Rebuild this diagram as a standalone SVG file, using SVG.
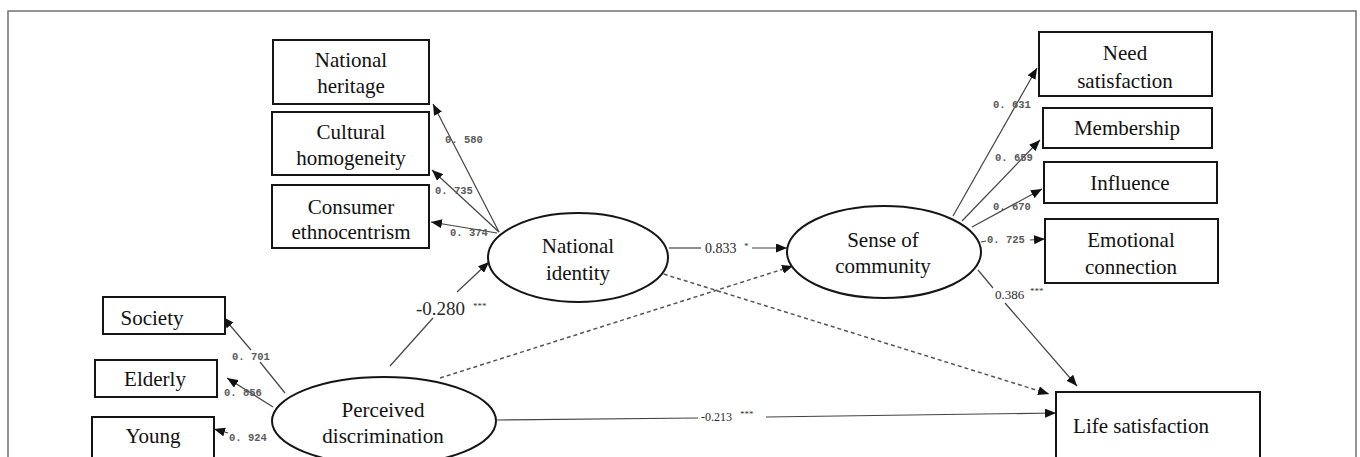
<svg xmlns="http://www.w3.org/2000/svg" width="1360" height="457" viewBox="0 0 1360 457">
<style>
.box{fill:#fff;stroke:#151515;stroke-width:2}
.ell{fill:#fff;stroke:#151515;stroke-width:2}
.lbl{font-family:"Liberation Serif","Times New Roman",serif;font-size:21px;fill:#111;text-anchor:middle}
.ln{fill:none;stroke:#444;stroke-width:1.2}
.dash{fill:none;stroke:#555;stroke-width:1.5;stroke-dasharray:4 3}
.co{font-family:"Liberation Mono","Courier New",monospace;font-size:10.5px;font-weight:bold;fill:#5a5a5a}
.cs{font-family:"Liberation Serif","Times New Roman",serif;fill:#2a2a2a}
.st{font-family:"Liberation Serif","Times New Roman",serif;fill:#333;font-size:9px}
</style>
<defs>
<marker id="ah" markerUnits="userSpaceOnUse" markerWidth="11" markerHeight="9" refX="11" refY="4.5" orient="auto">
<path d="M0,0 L11,4.5 L0,9 z" fill="#111"/>
</marker>
</defs>
<rect x="0" y="0" width="1360" height="457" fill="#fff"/>
<rect x="8" y="11" width="1348" height="460" fill="none" stroke="#707070" stroke-width="1.5"/>

<g id="connectors">
<path class="ln" d="M499,232 L433,104" marker-end="url(#ah)"/>
<path class="ln" d="M499,232 L432,170" marker-end="url(#ah)"/>
<path class="ln" d="M497,233 L431,222" marker-end="url(#ah)"/>
<path class="ln" d="M390,366 L433,318"/>
<path class="ln" d="M457,292 L489,262" marker-end="url(#ah)"/>
<path class="ln" d="M669,248 L701,248"/>
<path class="ln" d="M752,248 L787,248" marker-end="url(#ah)"/>
<path class="dash" d="M657,272 L1049,394" marker-end="url(#ah)"/>
<path class="dash" d="M440,378 L793,266" marker-end="url(#ah)"/>
<path class="ln" d="M978,270 L993,288"/>
<path class="ln" d="M1005,303 L1077,386" marker-end="url(#ah)"/>
<path class="ln" d="M497,420 L698,418"/>
<path class="ln" d="M766,417 L1056,413" marker-end="url(#ah)"/>
<path class="ln" d="M953,216 L1037,68" marker-end="url(#ah)"/>
<path class="ln" d="M962,221 L1040,140" marker-end="url(#ah)"/>
<path class="ln" d="M972,227 L1042,189" marker-end="url(#ah)"/>
<path class="ln" d="M981,242 L986,241"/>
<path class="ln" d="M1030,240 L1045,239" marker-end="url(#ah)"/>
<path class="ln" d="M285,393 L260,362"/>
<path class="ln" d="M251,350 L223,317" marker-end="url(#ah)"/>
<path class="ln" d="M273,407 L227,378" marker-end="url(#ah)"/>
<path class="ln" d="M228,433 L214,429" marker-end="url(#ah)"/>

<text class="co" x="445" y="143">0. 580</text>
<text class="co" x="435" y="194">0. 735</text>
<text class="co" x="450" y="236">0. 374</text>
<text class="co" x="993" y="108">0. 631</text>
<text class="co" x="995" y="161">0. 659</text>
<text class="co" x="993" y="210">0. 670</text>
<text class="co" x="987" y="243">0. 725</text>
<text class="co" x="232" y="360">0. 701</text>
<text class="co" x="224" y="396">0. 856</text>
<text class="co" x="229" y="441">0. 924</text>

<text class="cs" x="416" y="315" font-size="19">-0.280</text>
<text class="st" x="473" y="309">***</text>
<text class="cs" x="705" y="253" font-size="14">0.833</text>
<text class="st" x="744" y="249">*</text>
<text class="cs" x="995" y="299" font-size="13">0.386</text>
<text class="st" x="1030" y="294">***</text>
<text class="cs" x="701" y="421" font-size="12">-0.213</text>
<text class="st" x="740" y="417">***</text>
</g>

<g id="national-heritage"><rect class="box" x="273" y="40" width="156" height="64"/><text class="lbl" x="351" y="67">National</text><text class="lbl" x="351" y="93">heritage</text></g>
<g id="cultural-homogeneity"><rect class="box" x="272" y="112" width="157" height="63"/><text class="lbl" x="351" y="139">Cultural</text><text class="lbl" x="351" y="165">homogeneity</text></g>
<g id="consumer-ethnocentrism"><rect class="box" x="272" y="185" width="157" height="63"/><text class="lbl" x="351" y="214">Consumer</text><text class="lbl" x="351" y="239">ethnocentrism</text></g>

<g id="national-identity"><ellipse class="ell" cx="578" cy="257.5" rx="90" ry="44.5"/><text class="lbl" x="578" y="253">National</text><text class="lbl" x="578" y="280">identity</text></g>
<g id="sense-of-community"><ellipse class="ell" cx="884" cy="252" rx="97" ry="46"/><text class="lbl" x="883" y="247">Sense of</text><text class="lbl" x="883" y="273">community</text></g>

<g id="need-satisfaction"><rect class="box" x="1039" y="32" width="173" height="64"/><text class="lbl" x="1125" y="60">Need</text><text class="lbl" x="1125" y="88">satisfaction</text></g>
<g id="membership"><rect class="box" x="1043" y="108" width="169" height="40"/><text class="lbl" x="1127" y="135">Membership</text></g>
<g id="influence"><rect class="box" x="1044" y="162" width="173" height="41"/><text class="lbl" x="1130" y="190">Influence</text></g>
<g id="emotional-connection"><rect class="box" x="1045" y="219" width="173" height="64"/><text class="lbl" x="1131" y="247">Emotional</text><text class="lbl" x="1131" y="274">connection</text></g>

<g id="society"><rect class="box" x="103" y="297" width="122" height="37"/><text class="lbl" x="152" y="325">Society</text></g>
<g id="elderly"><rect class="box" x="95" y="360" width="122" height="37"/><text class="lbl" x="155" y="386">Elderly</text></g>
<g id="young"><rect class="box" x="92" y="417" width="122" height="50"/><text class="lbl" x="153" y="443">Young</text></g>

<g id="perceived-discrimination"><ellipse class="ell" cx="384" cy="421" rx="112" ry="44"/><text class="lbl" x="383" y="417">Perceived</text><text class="lbl" x="383" y="443">discrimination</text></g>

<g id="life-satisfaction"><rect class="box" x="1056" y="392" width="204" height="80"/><text class="lbl" x="1141" y="433">Life satisfaction</text></g>
</svg>
